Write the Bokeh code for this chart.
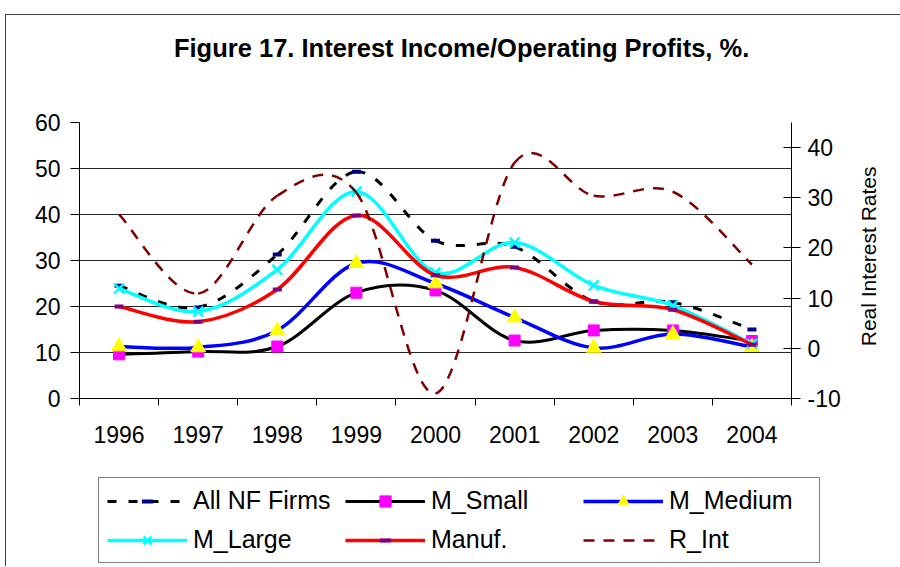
import math
from bokeh.plotting import figure
from bokeh.layouts import column
from bokeh.models import (Range1d, LinearAxis, FixedTicker, Legend, LegendItem,
                          ColumnDataSource, Label)
from bokeh.embed import file_html
from bokeh.resources import INLINE

# ---------------- data ----------------
years = ["1996", "1997", "1998", "1999", "2000", "2001", "2002", "2003", "2004"]
all_nf = [24.5, 19.8, 31.3, 49.3, 34.3, 33.0, 21.1, 20.9, 15.0]
m_small = [9.6, 10.2, 11.3, 23.0, 23.5, 12.6, 14.8, 14.8, 12.5]
m_medium = [11.3, 11.1, 14.8, 29.4, 25.0, 17.6, 11.0, 14.0, 11.2]
m_large = [23.9, 18.9, 28.0, 45.0, 27.4, 33.9, 24.6, 20.2, 11.9]
manuf = [20.0, 16.7, 23.7, 39.8, 26.8, 28.5, 21.1, 19.3, 11.7]
r_int = [26.7, 10.9, 30.4, 31.0, -9.0, 37.0, 30.4, 31.2, 16.7]

series_names = ["All NF Firms", "M_Small", "M_Medium", "M_Large", "Manuf.", "R_Int"]
left_ticks = [0, 10, 20, 30, 40, 50, 60]
right_ticks = [-10, 0, 10, 20, 30, 40]
right_tick_labels = ["-10", "0", "10", "20", "30", "40"]
title_text = "Figure 17. Interest Income/Operating Profits, %."
right_title = "Real Interest Rates"

FONT = "Liberation Sans"

# category centres on a numeric axis (ticks sit between categories, as in Excel)
xs = [i + 0.5 for i in range(len(years))]
bounds = list(range(len(years) + 1))


def smooth(xv, yv):
    """Excel-like smoothed line: cubic Bezier segments (Catmull-Rom control points)."""
    n = len(xv)
    pts = list(zip(xv, yv))
    d = {k: [] for k in ("x0", "y0", "x1", "y1", "cx0", "cy0", "cx1", "cy1")}
    for i in range(n - 1):
        pm = pts[i - 1] if i > 0 else pts[i]
        p0 = pts[i]
        p1 = pts[i + 1]
        p2 = pts[i + 2] if i + 2 < n else pts[i + 1]
        d["x0"].append(p0[0]); d["y0"].append(p0[1])
        d["x1"].append(p1[0]); d["y1"].append(p1[1])
        d["cx0"].append(p0[0] + (p1[0] - pm[0]) / 6.0)
        d["cy0"].append(p0[1] + (p1[1] - pm[1]) / 6.0)
        d["cx1"].append(p1[0] - (p2[0] - p0[0]) / 6.0)
        d["cy1"].append(p1[1] - (p2[1] - p0[1]) / 6.0)
    return ColumnDataSource(d)


src = {
    "allnf": smooth(xs, all_nf), "small": smooth(xs, m_small), "med": smooth(xs, m_medium),
    "large": smooth(xs, m_large), "man": smooth(xs, manuf), "rint": smooth(xs, r_int),
}
bz = dict(x0="x0", y0="y0", x1="x1", y1="y1", cx0="cx0", cy0="cy0", cx1="cx1", cy1="cy1")

STY = {
    "allnf": dict(line_color="#000000", line_width=3, line_dash="9 12"),
    "small": dict(line_color="#000000", line_width=3),
    "med": dict(line_color="#0000FF", line_width=3.5),
    "large": dict(line_color="#00FFFF", line_width=3.5),
    "man": dict(line_color="#FF0000", line_width=3.5),
    "rint": dict(line_color="#800000", line_width=2.5, line_dash="11 9"),
}
MK = {
    "allnf": (all_nf, dict(marker="dash", size=9, line_color="#000080", line_width=4)),
    "small": (m_small, dict(marker="square", size=11, fill_color="#FF00FF", line_color="#FF00FF")),
    "med": (m_medium, dict(marker="triangle", size=15, fill_color="#FFFF00", line_color="#FFFF00")),
    "large": (m_large, dict(marker="x", size=14, line_color="#00FFFF", line_width=2.5)),
    "man": (manuf, dict(marker="dash", size=9, line_color="#800080", line_width=4)),
}
order = ["allnf", "small", "med", "large", "man", "rint"]

# ---------------- main chart ----------------
p = figure(width=894, height=460, output_backend="svg", toolbar_location=None,
           x_range=Range1d(0, len(years)), y_range=Range1d(0, 60),
           min_border_left=73, min_border_right=109, min_border_top=107,
           min_border_bottom=77)
p.background_fill_color = "white"
p.border_fill_color = "white"
p.outline_line_color = None
p.extra_y_ranges = {"rint": Range1d(-10, 45)}

# grid
p.xgrid.grid_line_color = None
p.ygrid.ticker = FixedTicker(ticks=left_ticks)
p.ygrid.grid_line_color = "#000000"
p.ygrid.grid_line_alpha = 0.85
p.ygrid.grid_line_width = 1

# bottom axis
xa = p.xaxis[0]
xa.ticker = FixedTicker(ticks=xs, minor_ticks=bounds)
xa.major_label_overrides = {x: y for x, y in zip(xs, years)}
xa.major_tick_line_color = None
xa.major_tick_out = 0
xa.major_tick_in = 0
xa.minor_tick_line_color = "#000000"
xa.minor_tick_out = 7
xa.minor_tick_in = 0
xa.axis_line_color = "#000000"
xa.major_label_standoff = 20
xa.major_label_text_font = FONT
xa.major_label_text_font_size = "23px"
xa.major_label_text_color = "#000000"

# left axis
ya = p.yaxis[0]
ya.ticker = FixedTicker(ticks=left_ticks)
ya.minor_tick_line_color = None
ya.major_tick_out = 9
ya.major_tick_in = 0
ya.major_tick_line_color = "#000000"
ya.axis_line_color = "#000000"
ya.major_label_standoff = 10
ya.major_label_text_font = FONT
ya.major_label_text_font_size = "23px"
ya.major_label_text_color = "#000000"

# right axis
ra = LinearAxis(y_range_name="rint", ticker=FixedTicker(ticks=right_ticks))
ra.major_label_overrides = {t: s for t, s in zip(right_ticks, right_tick_labels)}
ra.minor_tick_line_color = None
ra.major_tick_out = 9
ra.major_tick_in = 8
ra.major_tick_line_color = "#000000"
ra.axis_line_color = "#000000"
ra.major_label_standoff = 7
ra.major_label_text_font = FONT
ra.major_label_text_font_size = "23px"
ra.major_label_text_color = "#000000"
p.add_layout(ra, "right")

# right-axis title (reads bottom to top) in the right side panel
p.add_layout(Label(x=9.974, y=30.9, text=right_title, angle=math.pi / 2,
                   text_font=FONT, text_font_size="21px", text_color="#000000",
                   text_align="center", text_baseline="middle"), "right")

# chart title in the top side panel
p.add_layout(Label(x=4.83, y=76.1, text=title_text,
                   text_font=FONT, text_font_size="25.5px", text_font_style="bold",
                   text_color="#000000", text_align="center", text_baseline="middle"), "above")

# series
for k in order:
    extra = {"y_range_name": "rint"} if k == "rint" else {}
    p.bezier(source=src[k], **bz, **STY[k], **extra)
    if k in MK:
        vals, kw = MK[k]
        p.scatter(xs, vals, **kw)

# ---------------- legend strip (below the chart) ----------------
pl = figure(width=894, height=91, output_backend="svg", toolbar_location=None,
            x_range=Range1d(0, len(years)), y_range=Range1d(0, 60), min_border=0,
            x_axis_location=None, y_axis_location=None)
pl.grid.visible = False
pl.outline_line_color = None
pl.background_fill_color = "white"
pl.border_fill_color = "white"

for fig in (p, pl):
    try:
        fig.frame_align = False
    except Exception:
        pass

items = []
for k, name in zip(order, series_names):
    rends = [pl.bezier(source=src[k], visible=False, **bz, **STY[k])]
    if k in MK:
        vals, kw = MK[k]
        rends.append(pl.scatter(xs, vals, visible=False, **kw))
    items.append(LegendItem(label=name, renderers=rends))

legend = Legend(items=items, location=(92, 3), orientation="horizontal", ncols=3,
                glyph_width=80, glyph_height=28, label_width=142, label_standoff=6,
                spacing=10, padding=8, margin=0,
                label_text_font=FONT, label_text_font_size="25px", label_text_color="#000000",
                border_line_color="#000000", border_line_width=1,
                background_fill_color="white", background_fill_alpha=1.0)
pl.add_layout(legend, "center")

lay = column(p, pl, spacing=0)
lay.styles = {"margin-left": "5px", "margin-top": "14px",
              "border-left": "1px solid #404040", "border-top": "1px solid #404040"}

open("out.html", "w").write(file_html(lay, INLINE))
